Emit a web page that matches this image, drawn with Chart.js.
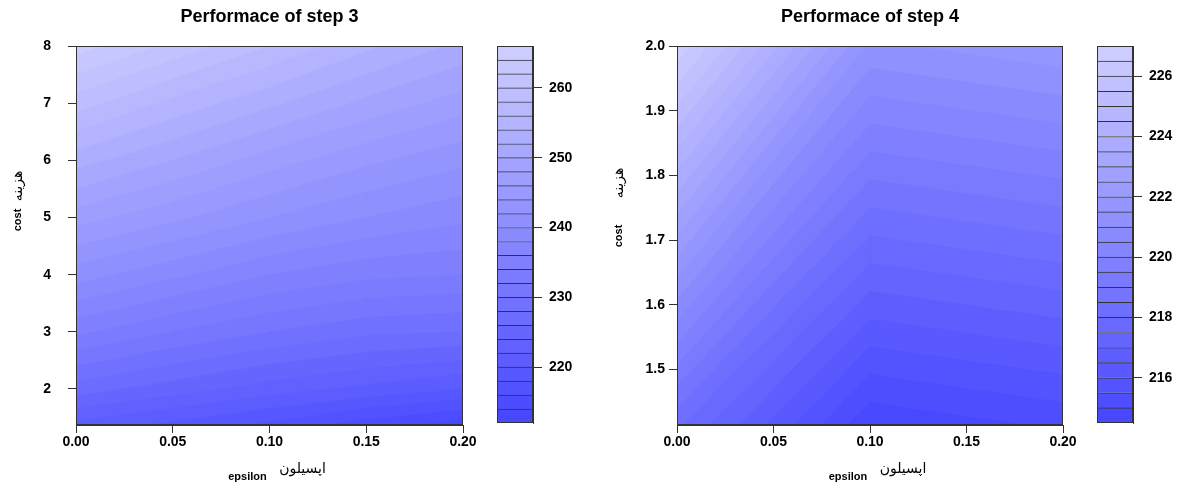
<!DOCTYPE html>
<html>
<head>
<meta charset="utf-8">
<script src="https://cdn.jsdelivr.net/npm/chart.js@4.4.0/dist/chart.umd.min.js"></script>
<style>
  body { margin: 0; background: #fff; }
  #wrap { position: relative; width: 1181px; height: 486px; background: #fff; }
  .box { position: absolute; top: 0; height: 486px; }
</style>
</head>
<body>
<div id="wrap">
  <div class="box" style="left:0;width:490px"><canvas id="plot3"></canvas></div>
  <div class="box" style="left:480px;width:110px"><canvas id="key3"></canvas></div>
  <div class="box" style="left:590px;width:490px"><canvas id="plot4"></canvas></div>
  <div class="box" style="left:1080px;width:101px"><canvas id="key4"></canvas></div>
</div>
<script>
// step 3: rows follow cost3, columns follow eps3
const eps3 = [0, 0.05, 0.1, 0.15, 0.2];
const cost3 = [1.37, 2, 3, 4, 5, 6, 7, 8];
const perf3 = [
  [221.5, 219.5, 217.5, 215, 213],
  [227, 225, 223, 221.5, 220],
  [234.5, 232, 230, 228.5, 228],
  [241, 238.5, 236, 234.5, 234],
  [247, 244.5, 242, 240, 238.5],
  [253, 250, 247, 244.5, 242.5],
  [259, 255.5, 252.5, 249.5, 247],
  [265, 261.5, 258, 254.5, 251.5],
];
const levels3 = [212, 214, 216, 218, 220, 222, 224, 226, 228, 230, 232, 234, 236, 238,
  240, 242, 244, 246, 248, 250, 252, 254, 256, 258, 260, 262, 264, 266];
const xTicks3 = [0, 0.05, 0.1, 0.15, 0.2];
const yTicks3 = [2, 3, 4, 5, 6, 7, 8];
const keyTicks3 = [220, 230, 240, 250, 260];

// step 4
const eps4 = [0, 0.1, 0.2];
const cost4 = [1.414, 2];
const perf4 = [
  [218.1, 214.6, 215.1],
  [226.9, 221.4, 221.9],
];
const levels4 = [214.5, 215, 215.5, 216, 216.5, 217, 217.5, 218, 218.5, 219, 219.5, 220, 220.5,
  221, 221.5, 222, 222.5, 223, 223.5, 224, 224.5, 225, 225.5, 226, 226.5, 227];
const xTicks4 = [0, 0.05, 0.1, 0.15, 0.2];
const yTicks4 = [1.5, 1.6, 1.7, 1.8, 1.9, 2.0];
const keyTicks4 = [216, 218, 220, 222, 224, 226];

const FONT = 'Arial, "Liberation Sans", sans-serif';
const FA_FONT = '"DejaVu Sans", sans-serif';
const LINE = '#333';
const LIGHT = [204, 204, 255];
const DARK = [72, 72, 255];

function bandColor(k, n) {
  const t = n > 1 ? k / (n - 1) : 0;
  const c = DARK.map((d, i) => Math.round(d + (LIGHT[i] - d) * t));
  return `rgb(${c[0]},${c[1]},${c[2]})`;
}

// keep the part of a polygon above (or below) a level, z linear along edges
function clip(poly, level, above) {
  const out = [];
  for (let i = 0; i < poly.length; i++) {
    const a = poly[i];
    const b = poly[(i + 1) % poly.length];
    const ina = above ? a[2] >= level : a[2] <= level;
    const inb = above ? b[2] >= level : b[2] <= level;
    if (ina) out.push(a);
    if (ina !== inb) {
      const t = (level - a[2]) / (b[2] - a[2]);
      out.push([a[0] + t * (b[0] - a[0]), a[1] + t * (b[1] - a[1]), level]);
    }
  }
  return out;
}

function contourDatasets(xs, ys, z, levels) {
  const sets = [];
  const n = levels.length - 1;
  for (let j = 0; j < ys.length - 1; j++) {
    for (let i = 0; i < xs.length - 1; i++) {
      const cell = [
        [xs[i], ys[j], z[j][i]],
        [xs[i + 1], ys[j], z[j][i + 1]],
        [xs[i + 1], ys[j + 1], z[j + 1][i + 1]],
        [xs[i], ys[j + 1], z[j + 1][i]],
      ];
      for (let k = 0; k < n; k++) {
        let p = clip(cell, levels[k], true);
        if (p.length < 3) continue;
        p = clip(p, levels[k + 1], false);
        if (p.length < 3) continue;
        const col = bandColor(k, n);
        const pts = p.map((v) => ({ x: v[0], y: v[1] }));
        pts.push(pts[0]);
        sets.push({
          type: 'line',
          data: pts,
          showLine: true,
          fill: 'shape',
          backgroundColor: col,
          borderColor: col,
          borderWidth: 1,
          pointRadius: 0,
          tension: 0,
        });
      }
    }
  }
  return sets;
}

const frame = {
  id: 'frame',
  afterDraw(chart) {
    const { ctx, chartArea: a } = chart;
    ctx.save();
    ctx.strokeStyle = LINE;
    ctx.lineWidth = 1;
    ctx.strokeRect(Math.round(a.left) + 0.5, Math.round(a.top) + 0.5,
      Math.round(a.right - a.left) - 1, Math.round(a.bottom - a.top) - 1);
    ctx.restore();
  },
};

const panelText = {
  id: 'panelText',
  afterDraw(chart, args, o) {
    const { ctx, chartArea: a } = chart;
    const cx = (a.left + a.right) / 2;
    ctx.save();
    ctx.fillStyle = '#000';
    ctx.textAlign = 'center';
    ctx.textBaseline = 'middle';
    ctx.font = `bold 18px ${FONT}`;
    ctx.fillText(o.title, cx, 17);
    ctx.font = `bold 11px ${FONT}`;
    ctx.fillText('epsilon', cx - 22, 477);
    ctx.font = `14px ${FA_FONT}`;
    ctx.fillText('اپسیلون', cx + 33, 469);
    ctx.translate(a.left - 58, 0);
    ctx.rotate(-Math.PI / 2);
    ctx.font = `bold 11px ${FONT}`;
    ctx.fillText('cost', -o.costY, 0);
    ctx.font = `14px ${FA_FONT}`;
    ctx.fillText('هزینه', -o.costFaY, 0);
    ctx.restore();
  },
};

const tickFont = { family: FONT, size: 14, weight: 'bold' };
const gridOpts = { drawOnChartArea: false, drawTicks: true, tickLength: 8, color: LINE, lineWidth: 1 };

function plotChart(id, xs, ys, z, levels, xTicks, yTicks, yDigits, yWidth, yPad, padRight, text) {
  return new Chart(document.getElementById(id), {
    type: 'scatter',
    data: { datasets: contourDatasets(xs, ys, z, levels) },
    options: {
      animation: false,
      responsive: true,
      maintainAspectRatio: false,
      events: [],
      layout: { padding: { left: 0, top: 46, right: padRight, bottom: 0 } },
      plugins: { legend: { display: false }, tooltip: { enabled: false }, panelText: text },
      scales: {
        x: {
          type: 'linear',
          min: xs[0],
          max: xs[xs.length - 1],
          afterBuildTicks: (s) => { s.ticks = xTicks.map((v) => ({ value: v })); },
          afterFit: (s) => { s.height = 61; },
          ticks: { callback: (v) => Number(v).toFixed(2), font: tickFont, color: '#000', padding: 1, maxRotation: 0, autoSkip: false },
          grid: gridOpts,
          border: { display: true, color: LINE },
        },
        y: {
          type: 'linear',
          min: ys[0],
          max: ys[ys.length - 1],
          afterBuildTicks: (s) => { s.ticks = yTicks.map((v) => ({ value: v })); },
          afterFit: (s) => { s.width = yWidth; },
          ticks: { callback: (v) => Number(v).toFixed(yDigits), font: tickFont, color: '#000', padding: yPad, autoSkip: false },
          grid: gridOpts,
          border: { display: true, color: LINE },
        },
      },
    },
    plugins: [frame, panelText],
  });
}

function keyChart(id, levels, ticks, axisWidth) {
  const n = levels.length - 1;
  const sets = [];
  for (let k = 0; k < n; k++) {
    sets.push({
      data: [[levels[k], levels[k + 1]]],
      backgroundColor: bandColor(k, n),
      borderColor: LINE,
      borderWidth: { top: 1, bottom: 0, left: 0, right: 0 },
      borderSkipped: false,
      grouped: false,
      barPercentage: 1,
      categoryPercentage: 1,
    });
  }
  return new Chart(document.getElementById(id), {
    type: 'bar',
    data: { labels: [''], datasets: sets },
    options: {
      animation: false,
      responsive: true,
      maintainAspectRatio: false,
      events: [],
      layout: { padding: { left: 17, top: 46, right: 0, bottom: 63 } },
      plugins: { legend: { display: false }, tooltip: { enabled: false } },
      scales: {
        x: { display: false },
        y: {
          position: 'right',
          min: levels[0],
          max: levels[n],
          afterBuildTicks: (s) => { s.ticks = ticks.map((v) => ({ value: v })); },
          afterFit: (s) => { s.width = axisWidth; },
          ticks: { font: tickFont, color: '#000', padding: 7, autoSkip: false },
          grid: { drawOnChartArea: false, drawTicks: true, tickLength: 9, color: LINE },
          border: { display: true, color: LINE },
        },
      },
    },
    plugins: [frame],
  });
}

plotChart('plot3', eps3, cost3, perf3, levels3, xTicks3, yTicks3, 0, 76, 17, 27,
  { title: 'Performace of step 3', costY: 220, costFaY: 186 });
keyChart('key3', levels3, keyTicks3, 57);
plotChart('plot4', eps4, cost4, perf4, levels4, xTicks4, yTicks4, 1, 87, 4, 17,
  { title: 'Performace of step 4', costY: 236, costFaY: 183 });
keyChart('key4', levels4, keyTicks4, 48);
</script>
</body>
</html>
